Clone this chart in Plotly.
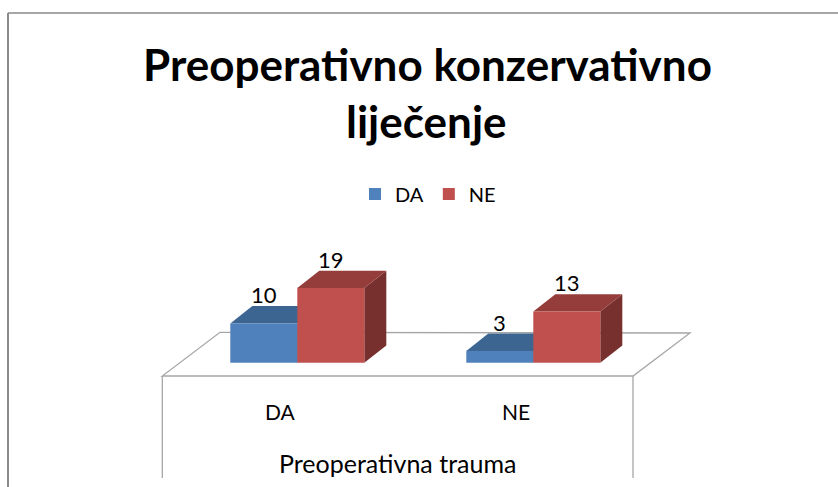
import plotly.graph_objects as go

# ---------------- data ----------------
categories = ["DA", "NE"]
series_names = ["DA", "NE"]
da_values = [10, 3]
ne_values = [19, 13]
title_lines = ["Preoperativno konzervativno", "liječenje"]
axis_title = "Preoperativna trauma"

# ---------------- styling ----------------
W, H = 838, 487
FONT = "Lato"
front_colors = ["#4F81BD", "#C0504D"]
top_colors = ["#3C6592", "#943D3B"]
side_colors = ["#2F5077", "#77302E"]

# pixel geometry of the plotting frame (layout only)
ZERO_PX = 362.7      # pixel row of value 0
PX_PER_UNIT = 3.93   # pixels per value unit
CAT0_PX = 297.3      # pixel column of first category centre
CAT_STEP = 236.0     # pixels between categories
BAR_W_PX = 67.0
DEPTH_DX_PX = 22.0
DEPTH_DY_PX = 17.3

bar_w = BAR_W_PX / CAT_STEP
ddx = DEPTH_DX_PX / CAT_STEP
ddy = DEPTH_DY_PX / PX_PER_UNIT

x_range = [(0 - CAT0_PX) / CAT_STEP, (W - CAT0_PX) / CAT_STEP]
y_range = [(ZERO_PX - H) / PX_PER_UNIT, ZERO_PX / PX_PER_UNIT]


def paper(px, py):
    return px / W, 1 - py / H


fig = go.Figure()

series_values = [da_values, ne_values]
xs = list(range(len(categories)))

for s, (name, vals) in enumerate(zip(series_names, series_values)):
    fig.add_trace(go.Bar(
        x=xs, y=vals, name=name,
        marker=dict(color=front_colors[s], line=dict(width=0)),
        hoverinfo="skip",
    ))

shapes = []

# frame of the chart area
fx0, fy0 = paper(8, 13)
fx1, fy1 = paper(W + 5, H + 5)
shapes.append(dict(type="line", xref="paper", yref="paper", x0=fx0, y0=fy0, x1=fx1, y1=fy0,
                   line=dict(color="#8A8A8A", width=1.5), layer="below"))
shapes.append(dict(type="line", xref="paper", yref="paper", x0=fx0, y0=fy0, x1=fx0, y1=fy1,
                   line=dict(color="#8A8A8A", width=2), layer="below"))

# floor
fl = [paper(162.3, 376), paper(633, 376), paper(690, 333), paper(220, 332.3)]
path = "M " + " L ".join(f"{a},{b}" for a, b in fl) + " Z"
shapes.append(dict(type="path", xref="paper", yref="paper", path=path,
                   fillcolor="white", line=dict(color="#A6A6A6", width=1.3), layer="below"))
for vx in (162.3, 633):
    a0, b0 = paper(vx, 376)
    a1, b1 = paper(vx, 478)
    shapes.append(dict(type="line", xref="paper", yref="paper", x0=a0, y0=b0, x1=a1, y1=b1,
                       line=dict(color="#A6A6A6", width=1.3), layer="below"))

# 3D top and side faces, computed from values
annotations = []
for s, vals in enumerate(series_values):
    for i, v in zip(xs, vals):
        x0 = i - bar_w + s * bar_w
        x1 = x0 + bar_w
        top = [(x0, v), (x1, v), (x1 + ddx, v + ddy), (x0 + ddx, v + ddy)]
        side = [(x1, 0), (x1, v), (x1 + ddx, v + ddy), (x1 + ddx, ddy)]
        for poly, col in ((side, side_colors[s]), (top, top_colors[s])):
            p = "M " + " L ".join(f"{a},{b}" for a, b in poly) + " Z"
            shapes.append(dict(type="path", xref="x", yref="y", path=p,
                               fillcolor=col, line=dict(width=0), layer="below"))
        annotations.append(dict(x=(x0 + x1) / 2, y=v + ddy, xref="x", yref="y",
                                text=str(v), showarrow=False, yanchor="bottom", yshift=-4,
                                font=dict(family=FONT, size=22, color="black")))

# category labels
for i, c in zip(xs, categories):
    annotations.append(dict(x=i, y=paper(0, 411.5)[1], xref="x", yref="paper", xshift=-17,
                            text=c, showarrow=False, yanchor="middle",
                            font=dict(family=FONT, size=21, color="black")))

# axis title
ax, ay = paper(397, 463)
annotations.append(dict(x=ax, y=ay, xref="paper", yref="paper", text=axis_title,
                        showarrow=False, yanchor="middle",
                        font=dict(family=FONT, size=25, color="black")))

# chart title
for line, (tx, ty) in zip(title_lines, [(428, 64), (426, 121)]):
    px_, py_ = paper(tx, ty)
    annotations.append(dict(x=px_, y=py_, xref="paper", yref="paper", text=f"<b>{line}</b>",
                            showarrow=False, yanchor="middle",
                            font=dict(family=FONT, size=44, color="black")))

lx, ly = paper(428, 194)
fig.update_layout(
    width=W, height=H,
    margin=dict(l=0, r=0, t=0, b=0),
    paper_bgcolor="white", plot_bgcolor="rgba(0,0,0,0)",
    barmode="group", bargap=1 - 2 * bar_w, bargroupgap=0,
    xaxis=dict(range=x_range, visible=False, fixedrange=True),
    yaxis=dict(range=y_range, visible=False, fixedrange=True),
    showlegend=True,
    legend=dict(orientation="h", x=lx, y=ly, xanchor="center", yanchor="middle",
                font=dict(family=FONT, size=20, color="black"), bgcolor="rgba(0,0,0,0)"),
    shapes=shapes, annotations=annotations,
    font=dict(family=FONT),
)

fig.write_html("out.html", config={"displayModeBar": False},
               post_script="document.body.style.margin='0px';document.body.style.overflow='hidden';")
